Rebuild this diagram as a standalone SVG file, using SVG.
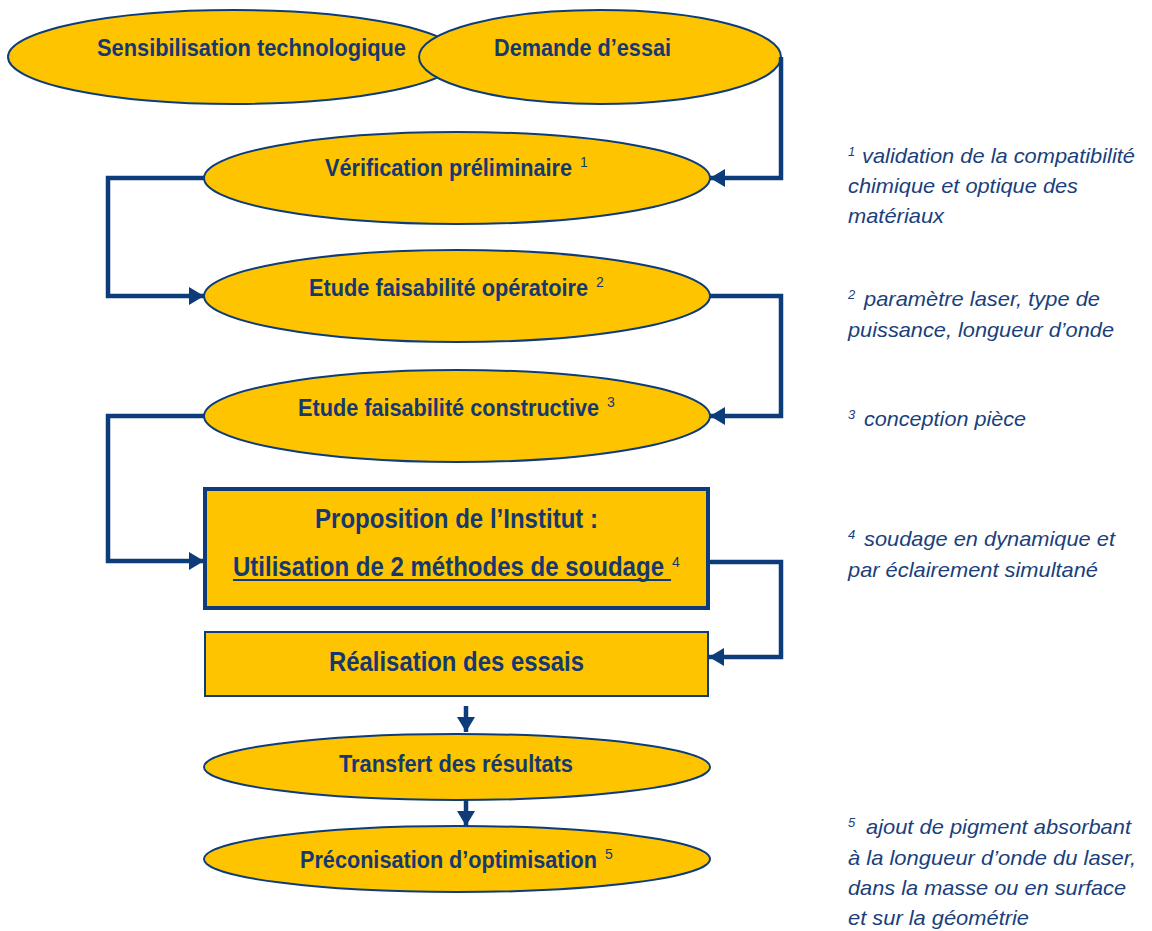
<svg xmlns="http://www.w3.org/2000/svg" width="1152" height="931" viewBox="0 0 1152 931">
<defs>
<marker id="ah" markerUnits="userSpaceOnUse" markerWidth="16" markerHeight="18" refX="15" refY="9" orient="auto">
<path d="M0,0 L15,9 L0,18 Z" fill="#0D3C7A"/>
</marker>
<style>
.nd{fill:#FFC400;stroke:#0D3C7A;stroke-width:2}
.bx{fill:#FFC400;stroke:#0D3C7A}
.t{font-family:"Liberation Sans",Arial,sans-serif;font-weight:bold;fill:#16386F;text-anchor:start}
.sup{font-family:"Liberation Sans",Arial,sans-serif;font-size:14px;font-weight:normal;fill:#16386F}
.n{font-family:"Liberation Sans",Arial,sans-serif;font-style:italic;font-size:21px;fill:#1A3F7C}
.ns{font-size:13px}
.c{fill:none;stroke:#0D3C7A;stroke-width:4.5}
</style>
</defs>
<rect width="1152" height="931" fill="#FFFFFF"/>

<g id="sensibilisation">
<ellipse class="nd" cx="234" cy="57" rx="226" ry="47"/>
<text class="t" x="97" y="56" font-size="24" textLength="309" lengthAdjust="spacingAndGlyphs">Sensibilisation technologique</text>
</g>
<g id="demande">
<ellipse class="nd" cx="600" cy="57" rx="181" ry="47"/>
<text class="t" x="494" y="56" font-size="24" textLength="177" lengthAdjust="spacingAndGlyphs">Demande d’essai</text>
</g>

<g id="verification">
<ellipse class="nd" cx="457" cy="178" rx="253" ry="46"/>
<text class="t" x="325" y="176" font-size="23"><tspan textLength="247" lengthAdjust="spacingAndGlyphs">Vérification préliminaire</tspan><tspan class="sup" x="580" y="167">1</tspan></text>
</g>

<g id="operatoire">
<ellipse class="nd" cx="457" cy="296" rx="253" ry="46"/>
<text class="t" x="309" y="296" font-size="23"><tspan textLength="279" lengthAdjust="spacingAndGlyphs">Etude faisabilité opératoire</tspan><tspan class="sup" x="596" y="287">2</tspan></text>
</g>

<g id="constructive">
<ellipse class="nd" cx="457" cy="416" rx="253" ry="46"/>
<text class="t" x="298" y="416" font-size="23"><tspan textLength="301" lengthAdjust="spacingAndGlyphs">Etude faisabilité constructive</tspan><tspan class="sup" x="607" y="407">3</tspan></text>
</g>

<g id="proposition">
<rect class="bx" x="205" y="489" width="503" height="119" stroke-width="4"/>
<text class="t" x="315" y="528" font-size="27" textLength="283" lengthAdjust="spacingAndGlyphs">Proposition de l’Institut :</text>
<text class="t" x="233" y="576" font-size="27"><tspan textLength="431" lengthAdjust="spacingAndGlyphs">Utilisation de 2 méthodes de soudage</tspan><tspan class="sup" x="672" y="567" font-size="15">4</tspan></text>
<line x1="233" y1="580" x2="671" y2="580" stroke="#0D3C7A" stroke-width="2"/>
</g>

<g id="realisation">
<rect class="bx" x="205" y="632" width="503" height="64" stroke-width="2"/>
<text class="t" x="329" y="671" font-size="27" textLength="255" lengthAdjust="spacingAndGlyphs">Réalisation des essais</text>
</g>

<g id="transfert">
<ellipse class="nd" cx="457" cy="767" rx="253" ry="33"/>
<text class="t" x="339" y="772" font-size="23" textLength="234" lengthAdjust="spacingAndGlyphs">Transfert des résultats</text>
</g>

<g id="preconisation">
<ellipse class="nd" cx="457" cy="859" rx="253" ry="33"/>
<text class="t" x="300" y="868" font-size="23"><tspan textLength="297" lengthAdjust="spacingAndGlyphs">Préconisation d’optimisation</tspan><tspan class="sup" x="605" y="859">5</tspan></text>
</g>

<g id="connectors">
<polyline class="c" points="781,57 781,178 710,178" marker-end="url(#ah)"/>
<polyline class="c" points="204,178 108,178 108,296 204,296" marker-end="url(#ah)"/>
<polyline class="c" points="710,296 781,296 781,416 710,416" marker-end="url(#ah)"/>
<polyline class="c" points="204,416 108,416 108,561 204,561" marker-end="url(#ah)"/>
<polyline class="c" points="708,562 781,562 781,657 709,657" marker-end="url(#ah)"/>
<line class="c" x1="466" y1="706" x2="466" y2="732" marker-end="url(#ah)"/>
<line class="c" x1="466" y1="800" x2="466" y2="826" marker-end="url(#ah)"/>
</g>

<g id="notes">
<text class="n"><tspan class="ns" x="848" y="156">1</tspan><tspan x="862" y="163" textLength="273" lengthAdjust="spacingAndGlyphs">validation de la compatibilité</tspan></text>
<text class="n" x="848" y="193" textLength="230" lengthAdjust="spacingAndGlyphs">chimique et optique des</text>
<text class="n" x="848" y="223" textLength="96" lengthAdjust="spacingAndGlyphs">matériaux</text>

<text class="n"><tspan class="ns" x="848" y="299">2</tspan><tspan x="864" y="306" textLength="236" lengthAdjust="spacingAndGlyphs">paramètre laser, type de</tspan></text>
<text class="n" x="848" y="337" textLength="266" lengthAdjust="spacingAndGlyphs">puissance, longueur d’onde</text>

<text class="n"><tspan class="ns" x="848" y="419">3</tspan><tspan x="864" y="426" textLength="162" lengthAdjust="spacingAndGlyphs">conception pièce</tspan></text>

<text class="n"><tspan class="ns" x="848" y="539">4</tspan><tspan x="864" y="546" textLength="251" lengthAdjust="spacingAndGlyphs">soudage en dynamique et</tspan></text>
<text class="n" x="848" y="577" textLength="250" lengthAdjust="spacingAndGlyphs">par éclairement simultané</text>

<text class="n"><tspan class="ns" x="848" y="827">5</tspan><tspan x="866" y="834" textLength="265" lengthAdjust="spacingAndGlyphs">ajout de pigment absorbant</tspan></text>
<text class="n" x="848" y="865" textLength="288" lengthAdjust="spacingAndGlyphs">à la longueur d’onde du laser,</text>
<text class="n" x="848" y="895" textLength="278" lengthAdjust="spacingAndGlyphs">dans la masse ou en surface</text>
<text class="n" x="848" y="925" textLength="181" lengthAdjust="spacingAndGlyphs">et sur la géométrie</text>
</g>
</svg>
